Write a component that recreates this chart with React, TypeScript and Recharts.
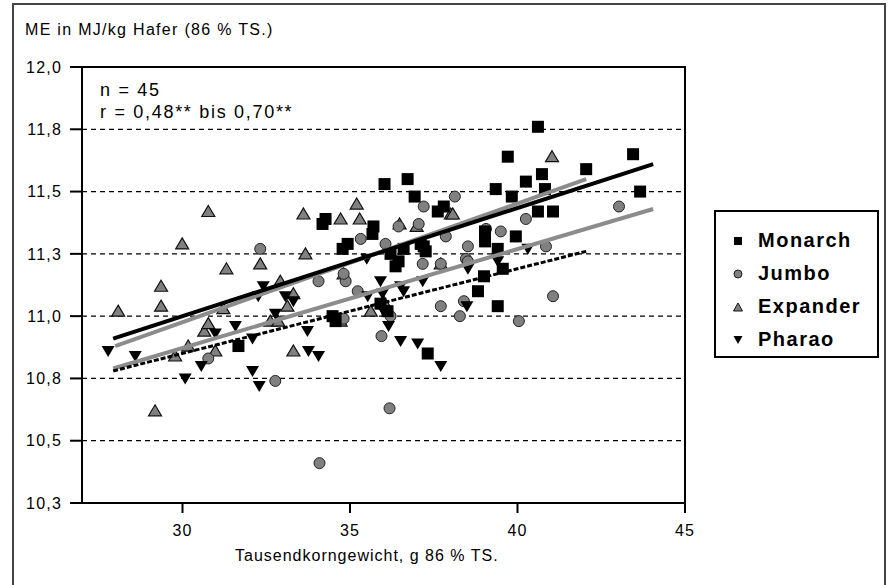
import React from 'react'
import { ScatterChart, Scatter, XAxis, YAxis, CartesianGrid, ReferenceArea } from 'recharts'

// Tausendkorngewicht (g) / ME (MJ/kg) pairs
const monarch: [number, number][] = [
  [40.61, 11.76], [39.71, 11.64], [43.45, 11.65], [42.05, 11.59], [40.73, 11.57],
  [40.25, 11.54], [39.35, 11.51], [39.83, 11.48], [43.66, 11.5], [40.82, 11.51],
  [40.61, 11.42], [41.06, 11.42], [39.03, 11.34], [39.03, 11.3], [39.95, 11.32],
  [39.41, 11.27], [39.56, 11.19], [39.0, 11.16], [38.82, 11.1], [39.41, 11.04],
  [34.27, 11.39], [34.18, 11.37], [34.78, 11.27], [34.93, 11.29], [35.7, 11.36],
  [35.67, 11.33], [36.03, 11.53], [36.72, 11.55], [36.93, 11.48], [37.62, 11.42],
  [37.8, 11.44], [36.21, 11.25], [36.36, 11.2], [36.6, 11.27], [37.26, 11.26],
  [37.11, 11.29], [34.48, 11.0], [34.57, 10.98], [35.91, 11.05], [36.12, 11.02],
  [31.67, 10.88], [37.32, 10.85], [37.2, 11.28], [36.45, 11.22]
]

const jumbo: [number, number][] = [
  [32.32, 11.27], [30.77, 10.83], [32.77, 10.74], [34.06, 11.14], [34.87, 11.14],
  [34.81, 11.17], [35.23, 11.1], [35.32, 11.31], [36.06, 11.29], [36.45, 11.36],
  [37.05, 11.37], [37.2, 11.44], [38.13, 11.48], [37.86, 11.32], [37.71, 11.21],
  [37.17, 11.21], [38.46, 11.23], [38.52, 11.28], [38.52, 11.22], [39.06, 11.35],
  [39.5, 11.34], [40.25, 11.39], [40.85, 11.28], [43.03, 11.44], [41.06, 11.08],
  [40.04, 10.98], [38.4, 11.06], [38.28, 11.0], [37.71, 11.04], [36.21, 11.0],
  [35.94, 10.92], [36.18, 10.63], [34.09, 10.41], [34.81, 10.99]
]

const expander: [number, number][] = [
  [28.08, 11.02], [29.36, 11.12], [29.36, 11.04], [29.99, 11.29], [30.77, 11.42],
  [31.31, 11.19], [32.32, 11.21], [29.18, 10.62], [30.65, 10.94], [30.77, 10.97],
  [30.17, 10.88], [29.78, 10.84], [30.98, 10.86], [32.92, 11.14], [33.31, 10.86],
  [31.22, 11.03], [33.61, 11.41], [35.2, 11.45], [34.72, 11.39], [35.29, 11.39],
  [33.67, 11.25], [36.48, 11.37], [36.99, 11.36], [38.01, 11.41], [34.81, 11.17],
  [33.31, 11.09], [41.03, 11.64], [38.07, 11.41], [33.13, 11.04], [32.62, 10.98],
  [32.86, 10.98], [34.72, 10.98], [35.62, 11.02], [36.0, 11.06], [37.71, 11.21]
]

const pharao: [number, number][] = [
  [27.78, 10.86], [28.59, 10.84], [30.08, 10.75], [30.56, 10.8], [30.98, 10.93],
  [31.58, 10.96], [32.09, 10.91], [32.09, 10.78], [32.29, 10.72], [32.41, 11.12],
  [32.26, 11.08], [32.77, 11.01], [33.07, 11.08], [33.31, 11.06], [33.73, 10.94],
  [33.76, 10.86], [34.06, 10.84], [36.15, 10.96], [36.51, 10.9], [37.02, 10.89],
  [37.71, 10.8], [35.97, 11.09], [36.0, 11.02], [36.6, 11.1], [37.17, 11.14],
  [35.5, 11.23], [35.91, 11.14], [35.53, 11.08], [36.51, 11.12], [40.31, 11.27],
  [38.52, 11.19], [39.41, 11.22], [38.49, 11.04]
]

// regression line end points
const monarchTrend: [number, number][] = [[27.93, 10.91], [44.05, 11.61]]
const expanderTrend: [number, number][] = [[27.99, 10.88], [42.05, 11.55]]
const jumboTrend: [number, number][] = [[27.93, 10.79], [44.05, 11.43]]
const pharaoTrend: [number, number][] = [[27.93, 10.78], [42.05, 11.26]]

const xTicks = [30, 35, 40, 45]
const yTicks = [10.25, 10.5, 10.75, 11, 11.25, 11.5, 11.75, 12]

const legendItems = ['Monarch', 'Jumbo', 'Expander', 'Pharao']

const toPts = (arr: [number, number][]) => arr.map(([x, y]) => ({ x, y }))

const font = '"Liberation Sans", Arial, sans-serif'

const Square = (p: any) => <rect x={p.cx - 6} y={p.cy - 6} width={12} height={12} fill="#000" />
const Dot = (p: any) => <circle cx={p.cx} cy={p.cy} r={5.5} fill="#808080" stroke="#222" strokeWidth={1} />
const TriUp = (p: any) => (
  <polygon
    points={`${p.cx},${p.cy - 6} ${p.cx + 6.5},${p.cy + 5} ${p.cx - 6.5},${p.cy + 5}`}
    fill="#808080"
    stroke="#111"
    strokeWidth={1.2}
  />
)
const TriDown = (p: any) => (
  <polygon points={`${p.cx - 6.5},${p.cy - 5} ${p.cx + 6.5},${p.cy - 5} ${p.cx},${p.cy + 6}`} fill="#000" />
)
const Nothing = () => <g />

function LegendSymbol({ i }: { i: number }) {
  return (
    <svg width={12} height={12} style={{ marginRight: 14 }}>
      {i === 0 && <rect x={2} y={2} width={8} height={8} fill="#000" />}
      {i === 1 && <circle cx={6} cy={6} r={4} fill="#808080" stroke="#222" strokeWidth={1} />}
      {i === 2 && <polygon points="6,2 10.5,10 1.5,10" fill="#808080" stroke="#111" strokeWidth={1} />}
      {i === 3 && <polygon points="1.5,2 10.5,2 6,10" fill="#000" />}
    </svg>
  )
}

export default function App() {
  const tickStyle = { fill: '#000', fontSize: 16, fontFamily: font, letterSpacing: 1.2 }
  return (
    <div
      style={{
        position: 'fixed',
        left: 0,
        top: 0,
        width: 890,
        height: 585,
        background: '#fff',
        overflow: 'hidden',
        fontFamily: font
      }}
    >
      <div
        style={{
          position: 'absolute',
          left: 12,
          top: 3,
          width: 870,
          height: 620,
          border: '2px solid #444'
        }}
      />
      <ScatterChart width={890} height={585} margin={{ top: 67, right: 205, bottom: 42, left: 0 }}>
        <CartesianGrid horizontal vertical={false} stroke="#000" strokeDasharray="5 4" strokeWidth={1.2} />
        <XAxis
          type="number"
          dataKey="x"
          domain={[27, 45]}
          ticks={xTicks}
          height={40}
          tickSize={10}
          tickMargin={12}
          axisLine={{ stroke: '#000', strokeWidth: 2 }}
          tickLine={{ stroke: '#000', strokeWidth: 2 }}
          tick={tickStyle}
        />
        <YAxis
          type="number"
          dataKey="y"
          domain={[10.25, 12]}
          ticks={yTicks}
          width={82}
          tickSize={12}
          tickMargin={8}
          tickFormatter={(v: number) => v.toFixed(1).replace('.', ',')}
          axisLine={{ stroke: '#000', strokeWidth: 2 }}
          tickLine={{ stroke: '#000', strokeWidth: 2 }}
          tick={tickStyle}
        />
        <ReferenceArea x1={27} x2={45} y1={10.25} y2={12} fill="none" stroke="#000" strokeWidth={2} />
        <Scatter data={toPts(expander)} shape={TriUp} isAnimationActive={false} />
        <Scatter data={toPts(jumbo)} shape={Dot} isAnimationActive={false} />
        <Scatter data={toPts(pharao)} shape={TriDown} isAnimationActive={false} />
        <Scatter data={toPts(monarch)} shape={Square} isAnimationActive={false} />
        <Scatter
          data={toPts(expanderTrend)}
          shape={Nothing}
          line={{ stroke: '#8c8c8c', strokeWidth: 4 }}
          isAnimationActive={false}
        />
        <Scatter
          data={toPts(monarchTrend)}
          shape={Nothing}
          line={{ stroke: '#000', strokeWidth: 4 }}
          isAnimationActive={false}
        />
        <Scatter
          data={toPts(jumboTrend)}
          shape={Nothing}
          line={{ stroke: '#8c8c8c', strokeWidth: 4 }}
          isAnimationActive={false}
        />
        <Scatter
          data={toPts(pharaoTrend)}
          shape={Nothing}
          line={{ stroke: '#000', strokeWidth: 3, strokeDasharray: '5 2' }}
          isAnimationActive={false}
        />
      </ScatterChart>

      <div style={{ position: 'absolute', left: 25, top: 21, fontSize: 16, letterSpacing: 1.3, whiteSpace: 'nowrap' }}>
        ME in MJ/kg Hafer (86 % TS.)
      </div>
      <div style={{ position: 'absolute', left: 100, top: 79, fontSize: 18, letterSpacing: 1.7, lineHeight: '22px', whiteSpace: 'nowrap' }}>
        <div>n = 45</div>
        <div>r = 0,48** bis 0,70**</div>
      </div>
      <div style={{ position: 'absolute', left: 235, top: 547, fontSize: 16, letterSpacing: 1, whiteSpace: 'nowrap' }}>
        Tausendkorngewicht, g 86 % TS.
      </div>

      <div
        style={{
          position: 'absolute',
          left: 714,
          top: 210,
          width: 165,
          height: 148,
          border: '2px solid #000',
          padding: '12px 0 0 16px',
          boxSizing: 'border-box'
        }}
      >
        {legendItems.map((name, i) => (
          <div
            key={name}
            style={{ display: 'flex', alignItems: 'center', height: 33, fontSize: 20, fontWeight: 'bold', letterSpacing: 1.5 }}
          >
            <LegendSymbol i={i} />
            {name}
          </div>
        ))}
      </div>
    </div>
  )
}
